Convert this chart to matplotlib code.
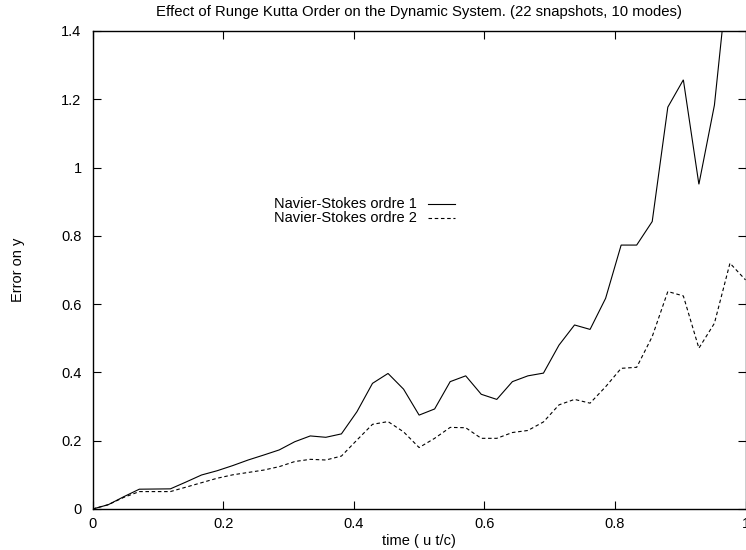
import matplotlib
matplotlib.use("Agg")
import matplotlib.pyplot as plt

# time samples (t/c)
time = [0.0, 0.0238, 0.0476, 0.0714, 0.0952, 0.119, 0.1429, 0.1667, 0.1905, 0.2143,
        0.2381, 0.2619, 0.2857, 0.3095, 0.3333, 0.3571, 0.381, 0.4048, 0.4286, 0.4524,
        0.4762, 0.5, 0.5238, 0.5476, 0.5714, 0.5952, 0.619, 0.6429, 0.6667, 0.6905,
        0.7143, 0.7381, 0.7619, 0.7857, 0.8095, 0.8333, 0.8571, 0.881, 0.9048, 0.9286,
        0.9524, 0.9762, 1.0]

ordre1 = [0.0, 0.0126, 0.036, 0.058, 0.0585, 0.059, 0.079, 0.0996, 0.112, 0.127,
          0.1435, 0.158, 0.173, 0.197, 0.214, 0.21, 0.22, 0.285, 0.368, 0.397,
          0.351, 0.275, 0.293, 0.373, 0.39, 0.336, 0.321, 0.373, 0.39, 0.398,
          0.48, 0.539, 0.526, 0.617, 0.773, 0.773, 0.842, 1.177, 1.257, 0.951,
          1.183, 1.62, 1.75]

ordre2 = [0.0, 0.0126, 0.034, 0.051, 0.051, 0.051, 0.064, 0.077, 0.09, 0.1,
          0.107, 0.114, 0.124, 0.139, 0.1455, 0.1435, 0.155, 0.202, 0.248, 0.256,
          0.226, 0.18, 0.207, 0.239, 0.238, 0.207, 0.207, 0.224, 0.23, 0.255,
          0.305, 0.321, 0.31, 0.358, 0.412, 0.415, 0.505, 0.637, 0.624, 0.471,
          0.544, 0.72, 0.671]

series_labels = ["Navier-Stokes ordre 1", "Navier-Stokes ordre 2"]
xticks = [0, 0.2, 0.4, 0.6, 0.8, 1]
xtick_labels = ["0", "0.2", "0.4", "0.6", "0.8", "1"]
yticks = [0, 0.2, 0.4, 0.6, 0.8, 1, 1.2, 1.4]
ytick_labels = ["0", "0.2", "0.4", "0.6", "0.8", "1", "1.2", "1.4"]

plt.rcParams['font.family'] = ['Liberation Sans', 'DejaVu Sans']

W, H = 746, 550
fig = plt.figure(figsize=(W / 100, H / 100), dpi=100)
left, right, top, bottom = 92.7, 745.5, 31, 509
ax = fig.add_axes([left / W, 1 - bottom / H, (right - left) / W, (bottom - top) / H])

lw = 0.8
ax.plot(time, ordre1, color='black', lw=lw, solid_joinstyle='miter')
ax.plot(time, ordre2, color='black', lw=lw, linestyle=(0, (3.2, 2.4)))

ax.set_xlim(0, 1)
ax.set_ylim(0, 1.4)
ax.set_xticks(xticks)
ax.set_xticklabels(xtick_labels)
ax.set_yticks(yticks)
ax.set_yticklabels(ytick_labels)
ax.tick_params(direction='in', length=6, width=0.8, top=True, right=True,
               labelsize=10.5, pad=8)
ax.tick_params(axis='x', pad=6)
for s in ax.spines.values():
    s.set_linewidth(1.0)

ax.set_xlabel("time ( u t/c)", fontsize=10.5, labelpad=2)
fig.text(18 / W, 1 - 270 / H, "Error on y", rotation=90, ha='center', va='center',
         fontsize=10.5)
fig.text(419 / W, 1 - 12 / H, "Effect of Runge Kutta Order on the Dynamic System. "
         "(22 snapshots, 10 modes)", ha='center', va='center', fontsize=10.7)

# legend
leg_styles = ['-', (0, (3.2, 2.4))]
for i, (lab, st) in enumerate(zip(series_labels, leg_styles)):
    yy = 1 - (204 + i * 13.5) / H
    fig.text(417 / W, yy, lab, ha='right', va='center', fontsize=10.5)
    fig.add_artist(plt.Line2D([428 / W, 455 / W], [yy, yy], transform=fig.transFigure,
                              color='black', lw=lw, linestyle=st))

fig.savefig("out.png", dpi=100)
